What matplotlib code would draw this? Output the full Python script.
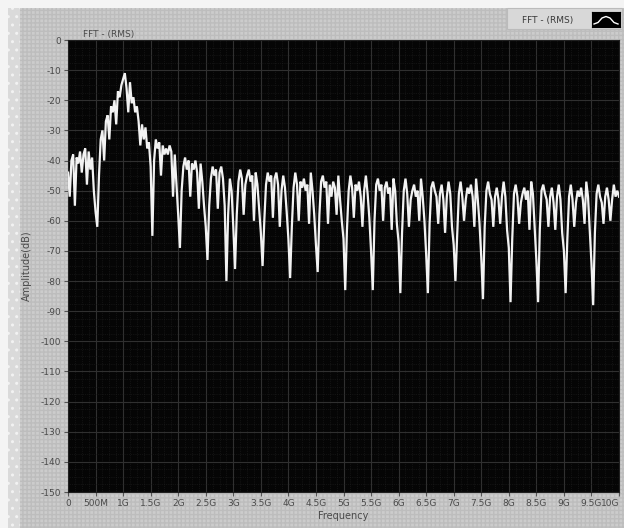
import numpy as np
import matplotlib
matplotlib.use("Agg")
import matplotlib.pyplot as plt
from matplotlib.patches import Rectangle

# ---------------- data ----------------
start_value = [-44]
lobe_00 = [-52, -40, -38, -55, -39, -41, -37, -44, -38, -36, -48, -37, -43, -39, -50, -57]
lobe_01 = [-62, -45, -33, -30, -40, -27, -25, -33, -22, -24, -20, -28, -17, -19, -15, -13]
lobe_02 = [-11, -16, -24, -14, -21, -19, -24, -22, -27, -35, -28, -33, -29, -36, -34, -42]
lobe_03 = [-65, -40, -33, -36, -34, -45, -35, -38, -36, -38, -35, -37, -52, -38, -48, -58]
lobe_04 = [-69, -50, -42, -39, -43, -40, -52, -41, -43, -40, -44, -56, -41, -47, -55, -62]
lobe_05 = [-73, -55, -46, -42, -45, -43, -56, -44, -42, -46, -55, -80, -58, -46, -50, -62]
lobe_06 = [-76, -58, -47, -43, -46, -58, -48, -45, -43, -47, -45, -60, -44, -48, -56, -64]
lobe_07 = [-75, -60, -48, -44, -47, -45, -59, -46, -44, -48, -62, -50, -45, -49, -57, -66]
lobe_08 = [-79, -62, -49, -44, -48, -60, -47, -49, -46, -50, -48, -61, -44, -50, -58, -68]
lobe_09 = [-77, -58, -47, -45, -49, -47, -61, -48, -52, -47, -49, -58, -45, -53, -60, -66]
lobe_10 = [-83, -63, -50, -45, -49, -59, -48, -50, -47, -52, -62, -50, -45, -51, -59, -70]
lobe_11 = [-83, -60, -48, -46, -50, -48, -60, -49, -47, -51, -49, -63, -46, -50, -61, -67]
lobe_12 = [-84, -64, -50, -46, -51, -62, -53, -50, -48, -52, -50, -60, -46, -52, -60, -71]
lobe_13 = [-84, -61, -49, -47, -50, -52, -61, -51, -48, -53, -64, -52, -47, -51, -62, -68]
lobe_14 = [-80, -65, -51, -47, -52, -60, -53, -49, -51, -48, -52, -62, -46, -53, -61, -72]
lobe_15 = [-86, -62, -50, -47, -51, -53, -62, -52, -49, -53, -61, -52, -47, -52, -63, -69]
lobe_16 = [-87, -66, -51, -48, -52, -61, -54, -51, -49, -53, -50, -63, -47, -51, -62, -73]
lobe_17 = [-87, -63, -50, -48, -51, -53, -62, -52, -49, -54, -63, -52, -48, -53, -64, -70]
lobe_18 = [-84, -66, -52, -48, -53, -62, -54, -50, -52, -49, -53, -61, -47, -52, -63, -74]
lobe_19 = [-88, -64, -51, -48, -52, -54, -61, -52, -49, -53, -60, -53, -48, -52, -50, -52]

amplitude_db = (start_value + lobe_00 + lobe_01 + lobe_02 + lobe_03 + lobe_04 +
                lobe_05 + lobe_06 + lobe_07 + lobe_08 + lobe_09 + lobe_10 +
                lobe_11 + lobe_12 + lobe_13 + lobe_14 + lobe_15 + lobe_16 +
                lobe_17 + lobe_18 + lobe_19)
freq_max_ghz = 10.0
frequency_ghz = np.linspace(0, freq_max_ghz, len(amplitude_db))

x_tick_values = [0, 0.5, 1, 1.5, 2, 2.5, 3, 3.5, 4, 4.5, 5, 5.5, 6, 6.5, 7, 7.5, 8, 8.5, 9, 9.5, 10]
x_tick_labels = ["0", "500M", "1G", "1.5G", "2G", "2.5G", "3G", "3.5G", "4G", "4.5G", "5G",
                 "5.5G", "6G", "6.5G", "7G", "7.5G", "8G", "8.5G", "9G", "9.5G", "10G"]
y_tick_values = [0, -10, -20, -30, -40, -50, -60, -70, -80, -90, -100, -110, -120, -130, -140, -150]
y_tick_labels = [str(v) for v in y_tick_values]

title_text = "FFT - (RMS)"
legend_text = "FFT - (RMS)"
x_label = "Frequency"
y_label = "Amplitude(dB)"

# ---------------- figure ----------------
W, H = 624, 528
fig = plt.figure(figsize=(W / 100, H / 100), dpi=100, facecolor="#f4f4f4")

# textured grey panel (behind everything)
panel = Rectangle((8 / W, 0), 1 - 8 / W, 1 - 8 / H, transform=fig.transFigure,
                  facecolor="#cccccc", edgecolor="#bdbdbd", hatch="++++", linewidth=0,
                  zorder=-5)
fig.patches.append(panel)
strip = Rectangle((8 / W, 0), 12 / W, 1 - 8 / H, transform=fig.transFigure,
                  facecolor="#dadada", edgecolor="#f2f2f2", hatch="..", linewidth=0,
                  zorder=-4)
fig.patches.append(strip)

ax = fig.add_axes([68 / W, 1 - 492 / H, (619 - 68) / W, (492 - 40) / H])
ax.set_zorder(2)
ax.set_facecolor("#050505")

ax.plot(frequency_ghz, amplitude_db, color="#f2f2f2", linewidth=1.6, zorder=3,
        solid_joinstyle="miter")

ax.set_xlim(0, freq_max_ghz)
ax.set_ylim(-150, 0)
ax.set_xticks(x_tick_values)
ax.set_xticklabels(x_tick_labels)
ax.set_yticks(y_tick_values)
ax.set_yticklabels(y_tick_labels)
ax.set_xticks(np.arange(0, 10.01, 0.125), minor=True)
ax.set_yticks(np.arange(-150, 0.1, 2.5), minor=True)
ax.get_xticklabels()[-1].set_horizontalalignment("right")

ax.grid(which="major", color="#303030", linewidth=0.8)
ax.grid(which="minor", color="#1f1f1f", linewidth=0.5, linestyle=":")
ax.set_axisbelow(True)

ax.tick_params(which="major", labelsize=6.5, labelcolor="#4a4a4a", color="#555555",
               length=3, width=0.8, pad=2)
ax.tick_params(which="minor", length=0)
for s in ax.spines.values():
    s.set_color("#202020")

ax.set_xlabel(x_label, fontsize=7, color="#4a4a4a", labelpad=2)
ax.set_ylabel(y_label, fontsize=7, color="#4a4a4a", labelpad=6)

fig.text(83 / W, 1 - 34 / H, title_text, fontsize=6.5, color="#4a4a4a",
         ha="left", va="center", zorder=3)

# legend box (top right)
leg_box = Rectangle((507 / W, 1 - 29 / H), 115 / W, 21 / H, transform=fig.transFigure,
                    facecolor="#d8d8d8", edgecolor="#bbbbbb", linewidth=0.8, zorder=1)
fig.patches.append(leg_box)
fig.text(548 / W, 1 - 20 / H, legend_text, fontsize=6.5, color="#3a3a3a",
         ha="center", va="center", zorder=3)
icon_ax = fig.add_axes([592 / W, 1 - 27 / H, 28 / W, 15 / H])
icon_ax.set_zorder(4)
icon_ax.set_facecolor("black")
icon_x = [0, 1, 2, 3, 4, 5, 6]
icon_y = [0.2, 0.3, 0.6, 0.7, 0.6, 0.3, 0.2]
icon_ax.plot(icon_x, icon_y, color="white", linewidth=1)
icon_ax.set_xlim(-0.5, 6.5)
icon_ax.set_ylim(0, 1)
icon_ax.set_xticks([])
icon_ax.set_yticks([])

fig.savefig("out.png", dpi=100, facecolor=fig.get_facecolor())
